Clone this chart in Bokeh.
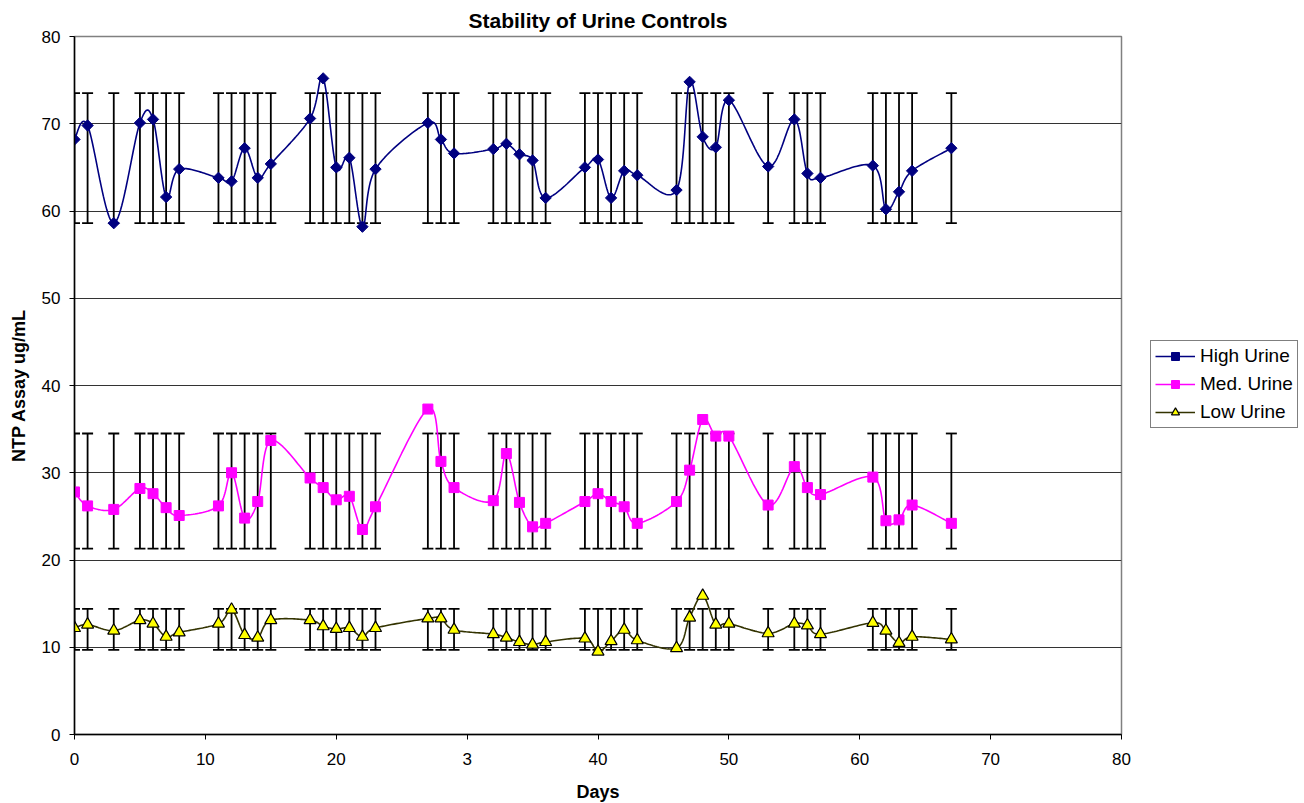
import numpy as np
from bokeh.plotting import figure
from bokeh.models import Legend, LegendItem, FixedTicker, ColumnDataSource
from bokeh.embed import file_html
from bokeh.resources import INLINE

days = [0, 1, 3, 5, 6, 7, 8, 11, 12, 13, 14, 15, 18, 19, 20, 21, 22, 23, 27, 28, 29,
        32, 33, 34, 35, 36, 39, 40, 41, 42, 43, 46, 47, 48, 49, 50, 53, 55, 56, 57,
        61, 62, 63, 64, 67]

high_urine = [68.2, 69.8, 58.6, 70.1, 70.5, 61.6, 64.8, 63.8, 63.4, 67.2, 63.8, 65.4,
              70.6, 75.2, 65.0, 66.1, 58.2, 64.8, 70.1, 68.2, 66.6,
              67.1, 67.7, 66.5, 65.8, 61.5, 65.0, 65.9, 61.5, 64.6, 64.1,
              62.4, 74.8, 68.5, 67.3, 72.7, 65.1, 70.5, 64.3, 63.8,
              65.2, 60.2, 62.2, 64.6, 67.2]

med_urine = [27.8, 26.2, 25.8, 28.2, 27.6, 26.0, 25.1, 26.2, 30.0, 24.8, 26.7, 33.7,
             29.4, 28.3, 26.9, 27.3, 23.5, 26.1, 37.3, 31.3, 28.3,
             26.8, 32.2, 26.6, 23.8, 24.2, 26.7, 27.6, 26.7, 26.1, 24.2,
             26.7, 30.3, 36.1, 34.2, 34.2, 26.3, 30.7, 28.3, 27.5,
             29.5, 24.5, 24.6, 26.3, 24.2]

low_urine = [12.2, 12.6, 11.9, 13.1, 12.7, 11.2, 11.7, 12.7, 14.3, 11.4, 11.1, 13.1,
             13.1, 12.4, 12.1, 12.2, 11.2, 12.2, 13.3, 13.3, 12.0,
             11.5, 11.1, 10.6, 10.3, 10.6, 11.0, 9.5, 10.7, 12.0, 10.8,
             9.9, 13.4, 15.9, 12.6, 12.7, 11.6, 12.7, 12.5, 11.5,
             12.8, 11.9, 10.5, 11.2, 10.9]

high_range = (58.6, 73.5)
med_range = (21.3, 34.5)
low_range = (9.7, 14.4)

x_ticks = [0, 10, 20, 30, 40, 50, 60, 70, 80]
x_tick_labels = ["0", "10", "20", "3", "40", "50", "60", "70", "80"]
y_ticks = [0, 10, 20, 30, 40, 50, 60, 70, 80]

FONT = "Liberation Sans"


def smooth(xs, ys, steps=24):
    xs = np.asarray(xs, float)
    ys = np.asarray(ys, float)
    n = len(xs)
    ox, oy = [xs[0]], [ys[0]]
    for i in range(n - 1):
        i0 = max(i - 1, 0)
        i3 = min(i + 2, n - 1)
        p0 = np.array([xs[i0], ys[i0]])
        p1 = np.array([xs[i], ys[i]])
        p2 = np.array([xs[i + 1], ys[i + 1]])
        p3 = np.array([xs[i3], ys[i3]])
        c1 = p1 + (p2 - p0) / 6.0
        c2 = p2 - (p3 - p1) / 6.0
        t = np.linspace(0, 1, steps + 1)[1:]
        b = ((1 - t) ** 3)[:, None] * p1 + (3 * (1 - t) ** 2 * t)[:, None] * c1 \
            + (3 * (1 - t) * t ** 2)[:, None] * c2 + (t ** 3)[:, None] * p2
        ox.extend(b[:, 0])
        oy.extend(b[:, 1])
    return ox, oy


p = figure(frame_width=1047, frame_height=698, x_range=(0, 80), y_range=(0, 80),
           output_backend="svg", toolbar_location=None,
           min_border_left=74, min_border_right=183, min_border_top=36,
           min_border_bottom=69)

p.title.text = "Stability of Urine Controls"
p.title.align = "center"
p.title.text_font = FONT
p.title.text_font_size = "21px"
p.title.text_font_style = "bold"
p.title.text_color = "black"
p.title.offset = 0
p.title.standoff = 10

p.outline_line_color = "#808080"
p.outline_line_width = 1.5
p.background_fill_color = "white"
p.border_fill_color = "white"

p.xgrid.visible = False
p.ygrid.ticker = FixedTicker(ticks=y_ticks)
p.ygrid.grid_line_color = "#333333"
p.ygrid.grid_line_width = 1

p.xaxis.ticker = FixedTicker(ticks=x_ticks)
p.xaxis.major_label_overrides = {t: l for t, l in zip(x_ticks, x_tick_labels)}
p.yaxis.ticker = FixedTicker(ticks=y_ticks)
for ax in (p.xaxis[0], p.yaxis[0]):
    ax.axis_line_color = "black"
    ax.axis_line_width = 1.5
    ax.major_tick_line_color = "black"
    ax.major_tick_out = 5
    ax.major_tick_in = 0
    ax.minor_tick_line_color = None
    ax.major_label_text_font = FONT
    ax.major_label_text_font_size = "17px"
    ax.major_label_text_color = "black"
    ax.axis_label_text_font = FONT
    ax.axis_label_text_font_size = "18px"
    ax.axis_label_text_font_style = "bold"
    ax.axis_label_text_color = "black"
p.xaxis.axis_label = "Days"
p.yaxis.axis_label = "NTP Assay ug/mL"
p.xaxis.major_label_standoff = 13
p.yaxis.major_label_standoff = 9
p.xaxis.axis_label_standoff = 14
p.yaxis.axis_label_standoff = 10

# error bars
for rng in (high_range, med_range, low_range):
    lo, hi = rng
    src = ColumnDataSource(dict(x=days, lo=[lo] * len(days), hi=[hi] * len(days)))
    p.segment(x0="x", y0="lo", x1="x", y1="hi", source=src, line_color="black", line_width=1.8)
    p.scatter(x="x", y="lo", source=src, marker="dash", size=11, line_color="black", line_width=1.8)
    p.scatter(x="x", y="hi", source=src, marker="dash", size=11, line_color="black", line_width=1.8)

series = [
    ("High Urine", high_urine, "#000080", dict(marker="square", angle=np.pi / 4, size=8,
                                                fill_color="#000080", line_color="#000080")),
    ("Med. Urine", med_urine, "#FF00FF", dict(marker="square", size=10,
                                               fill_color="#FF00FF", line_color="#FF00FF")),
    ("Low Urine", low_urine, "#333300", dict(marker="triangle", size=12,
                                              fill_color="#FFFF00", line_color="black", line_width=1.2)),
]

items = []
for name, vals, col, mk in series:
    sx, sy = smooth(days, vals)
    ln = p.line(sx, sy, line_color=col, line_width=1.6)
    sc = p.scatter(days, vals, **mk)
    items.append(LegendItem(label=name, renderers=[ln, sc]))

legend = Legend(items=items, location=(29, 306))
legend.label_text_font = FONT
legend.label_text_font_size = "19px"
legend.label_text_color = "black"
legend.border_line_color = "black"
legend.border_line_width = 1
legend.glyph_width = 40
legend.glyph_height = 20
legend.label_height = 20
legend.spacing = 6
legend.padding = 4
legend.margin = 0
legend.label_standoff = 5
p.add_layout(legend, "right")

open("out.html", "w").write(file_html(p, INLINE))
